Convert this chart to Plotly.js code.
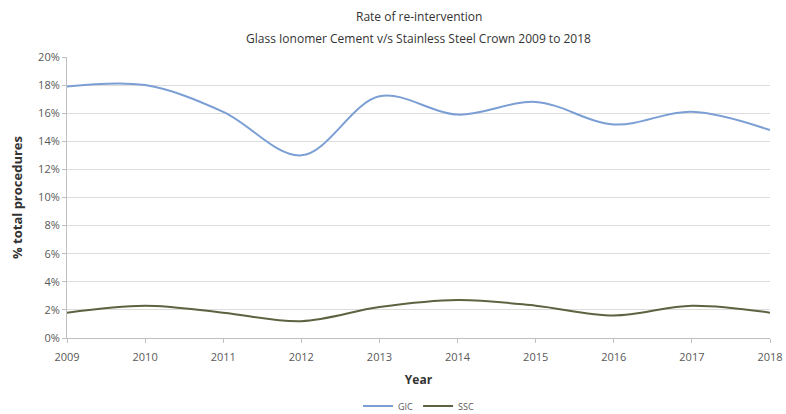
<!DOCTYPE html>
<html>
<head>
<meta charset="utf-8">
<script src="https://cdn.plot.ly/plotly-3.0.1.min.js"></script>
<style>
  html, body { margin: 0; padding: 0; background: #fff; }
  #chart { width: 786px; height: 414px; }
</style>
</head>
<body>
<div id="chart"></div>
<script>
// Re-intervention rate per year, % of total procedures
const years = [2009, 2010, 2011, 2012, 2013, 2014, 2015, 2016, 2017, 2018];
const gicRate = [17.9, 18.0, 16.1, 13.0, 17.2, 15.9, 16.8, 15.2, 16.1, 14.8];
const sscRate = [1.8, 2.3, 1.8, 1.2, 2.2, 2.7, 2.3, 1.6, 2.3, 1.8];
const yTicks = [0, 2, 4, 6, 8, 10, 12, 14, 16, 18, 20];
const yTickText = yTicks.map(v => v + '%');

const font = '"Open Sans", "Liberation Sans", sans-serif';

const traces = [
  {
    x: years, y: gicRate, name: 'GIC', type: 'scatter', mode: 'lines',
    line: { color: '#7b9fd4', width: 2, shape: 'spline', smoothing: 1 }
  },
  {
    x: years, y: sscRate, name: 'SSC', type: 'scatter', mode: 'lines',
    line: { color: '#5b6340', width: 2, shape: 'spline', smoothing: 1 }
  }
];

const layout = {
  width: 786, height: 414,
  margin: { l: 67, r: 16, t: 57, b: 76, autoexpand: false },
  paper_bgcolor: '#ffffff', plot_bgcolor: '#ffffff',
  font: { family: font, color: '#595959', size: 11 },
  annotations: [
    {
      text: 'Rate of re-intervention', xref: 'paper', yref: 'paper',
      x: 0.5, y: 1, yshift: 41, xanchor: 'center', yanchor: 'middle',
      showarrow: false, font: { family: font, size: 12, color: '#333333' }
    },
    {
      text: 'Glass Ionomer Cement v/s Stainless Steel Crown 2009 to 2018', xref: 'paper', yref: 'paper',
      x: 0.5, y: 1, yshift: 19, xanchor: 'center', yanchor: 'middle',
      showarrow: false, font: { family: font, size: 12, color: '#333333' }
    }
  ],
  xaxis: {
    range: [2009, 2018], tickvals: years, ticktext: years.map(String),
    showgrid: false, zeroline: false,
    showline: true, linecolor: '#bfbfbf', linewidth: 1,
    ticks: 'outside', ticklen: 4, tickcolor: '#bfbfbf',
    ticklabelstandoff: 5,
    tickfont: { size: 11, color: '#595959' },
    title: { text: '<b>Year</b>', font: { size: 12, color: '#333333' }, standoff: 12 }
  },
  yaxis: {
    range: [0, 20], tickvals: yTicks, ticktext: yTickText,
    showgrid: true, gridcolor: '#dcdcdc', gridwidth: 1,
    zeroline: false,
    showline: true, linecolor: '#bfbfbf', linewidth: 1,
    ticks: 'outside', ticklen: 4, tickcolor: '#bfbfbf',
    tickfont: { size: 11, color: '#595959' },
    title: { text: '<b>% total procedures</b>', font: { size: 13, color: '#333333' }, standoff: 12 }
  },
  showlegend: true,
  legend: {
    orientation: 'h', x: 0.5, xanchor: 'center', y: -0.242, yanchor: 'middle',
    font: { size: 9, color: '#595959' }, itemwidth: 30, tracegroupgap: 0
  }
};

Plotly.newPlot('chart', traces, layout, { displayModeBar: false, staticPlot: true });
</script>
</body>
</html>
